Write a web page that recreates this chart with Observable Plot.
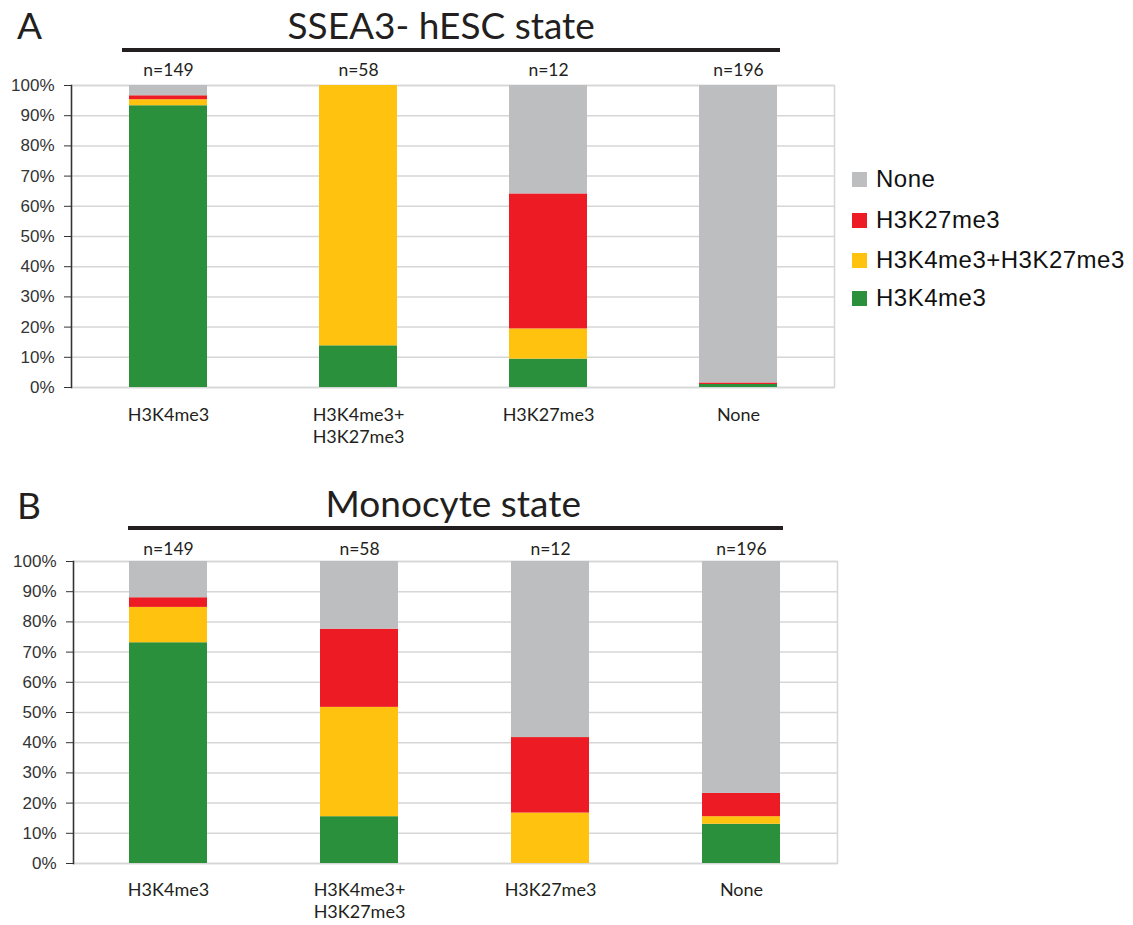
<!DOCTYPE html>
<html>
<head>
<meta charset="utf-8">
<script src="https://cdn.jsdelivr.net/npm/d3@7"></script>
<script src="https://cdn.jsdelivr.net/npm/@observablehq/plot@0.6"></script>
<style>
  body { margin: 0; background: #fff; }
  #page { position: relative; width: 1133px; height: 925px; overflow: hidden; color: #231f20; }
  .abs { position: absolute; white-space: nowrap; }
  .panel-letter, .panel-title { font-family: Lato, "Open Sans", sans-serif; font-size: 37px; line-height: 37px; }
  .bar-rule { position: absolute; height: 4px; background: #231f20; }
  .legend { position: absolute; left: 852px; top: 0; font-family: "Liberation Sans", Arial, sans-serif; font-size: 24px; letter-spacing: 0.5px; color: #111; }
  .legend .item { position: absolute; left: 0; display: flex; align-items: center; height: 30px; }
  .legend .swatch { width: 15px; height: 15px; margin-right: 9px; }
  svg { position: absolute; left: 0; }
</style>
</head>
<body>
<div id="page"></div>
<script>
// Promoter states (x categories) and the states they resolve to (stack order, bottom to top)
const categories = ["H3K4me3", "H3K4me3+H3K27me3", "H3K27me3", "None"];
const states = ["H3K4me3", "H3K4me3+H3K27me3", "H3K27me3", "None"];
const stateColors = ["#2a903b", "#ffc20e", "#ed1c24", "#bcbec0"];
const counts = [149, 58, 12, 196];
const yTicks = [0, 10, 20, 30, 40, 50, 60, 70, 80, 90, 100];

// A: SSEA3- hESC state, percent of genes per category
const hescH3K4me3 = [93.3, 13.8, 9.4, 1.0];
const hescBivalent = [2.0, 86.2, 10.0, 0.0];
const hescH3K27me3 = [1.3, 0.0, 44.7, 0.5];
const hescNone = [3.4, 0.0, 35.9, 98.5];

// B: Monocyte state, percent of genes per category
const monoH3K4me3 = [73.1, 15.5, 0.0, 13.0];
const monoBivalent = [11.7, 36.2, 16.7, 2.5];
const monoH3K27me3 = [3.2, 25.9, 25.0, 7.7];
const monoNone = [12.0, 22.4, 58.3, 76.8];

function toRows(seriesList) {
  const rows = [];
  categories.forEach((category, i) => {
    states.forEach((state, s) => rows.push({category, state, percent: seriesList[s][i]}));
  });
  return rows;
}
const nRows = categories.map((category, i) => ({category, n: counts[i]}));

function panel(rows, {width, height, marginLeft, marginRight, marginTop, marginBottom, nOffset, labelPad}) {
  return Plot.plot({
    width, height, marginLeft, marginRight, marginTop, marginBottom,
    style: {fontFamily: "Lato, 'Open Sans', sans-serif", fontSize: "18px", color: "#231f20", background: "transparent", overflow: "visible"},
    x: {domain: categories, paddingInner: 0.59, paddingOuter: 0.295, label: null},
    y: {domain: [0, 100], label: null},
    color: {domain: states, range: stateColors},
    marks: [
      Plot.gridY(yTicks, {stroke: "#d6d6d6", strokeOpacity: 1, strokeWidth: 1.5}),
      Plot.frame({stroke: "#d6d6d6", strokeWidth: 1.5}),
      Plot.barY(rows, {x: "category", y: "percent", fill: "state"}),
      Plot.frame({anchor: "left", stroke: "#333", strokeWidth: 1.5}),
      Plot.axisY({ticks: yTicks, tickFormat: d => d + "%", tickSize: 7, tickPadding: 10, color: "#333",
        fontFamily: "'Liberation Sans', Arial, sans-serif", fontSize: 17, label: null}),
      Plot.axisX({tickSize: 0, tickPadding: labelPad, tickFormat: d => d.replace("+", "+\n"), lineHeight: 1.22,
        fontSize: 18, label: null}),
      Plot.text(nRows, {x: "category", y: () => 100, text: d => `n=${d.n}`, dy: nOffset, fontSize: 17.5, lineAnchor: "middle"})
    ]
  });
}

const page = document.getElementById("page");

const plotA = panel(toRows([hescH3K4me3, hescBivalent, hescH3K27me3, hescNone]),
  {width: 840, height: 465, marginLeft: 71, marginRight: 6, marginTop: 85, marginBottom: 78, nOffset: -15, labelPad: 18});
plotA.style.top = "0px";
page.appendChild(plotA);

const plotB = panel(toRows([monoH3K4me3, monoBivalent, monoH3K27me3, monoNone]),
  {width: 842, height: 460, marginLeft: 73, marginRight: 5, marginTop: 96, marginBottom: 62, nOffset: -12, labelPad: 17});
plotB.style.top = "465px";
page.appendChild(plotB);

// Panel letters, titles and the rules under them
function addText(cls, text, left, top) {
  const el = document.createElement("div");
  el.className = "abs " + cls;
  el.textContent = text;
  el.style.left = left + "px";
  el.style.top = top + "px";
  page.appendChild(el);
  return el;
}
function addRule(left, top, width) {
  const el = document.createElement("div");
  el.className = "bar-rule";
  el.style.left = left + "px";
  el.style.top = top + "px";
  el.style.width = width + "px";
  page.appendChild(el);
}
addText("panel-letter", "A", 17, 6);
const titleA = addText("panel-title", "SSEA3- hESC state", 0, 6);
titleA.style.left = (441 - titleA.offsetWidth / 2) + "px";
addRule(122, 48, 658);

addText("panel-letter", "B", 17, 486);
const titleB = addText("panel-title", "Monocyte state", 0, 484);
titleB.style.left = (453 - titleB.offsetWidth / 2) + "px";
addRule(128, 526, 655);

// Legend, top entry is the top of the stack
const legend = document.createElement("div");
legend.className = "legend";
const legendTops = [164, 205, 245, 283];
states.slice().reverse().forEach((state, i) => {
  const item = document.createElement("div");
  item.className = "item";
  item.style.top = legendTops[i] + "px";
  const sw = document.createElement("div");
  sw.className = "swatch";
  sw.style.background = stateColors[states.indexOf(state)];
  const label = document.createElement("span");
  label.textContent = state;
  item.appendChild(sw);
  item.appendChild(label);
  legend.appendChild(item);
});
page.appendChild(legend);
</script>
</body>
</html>
